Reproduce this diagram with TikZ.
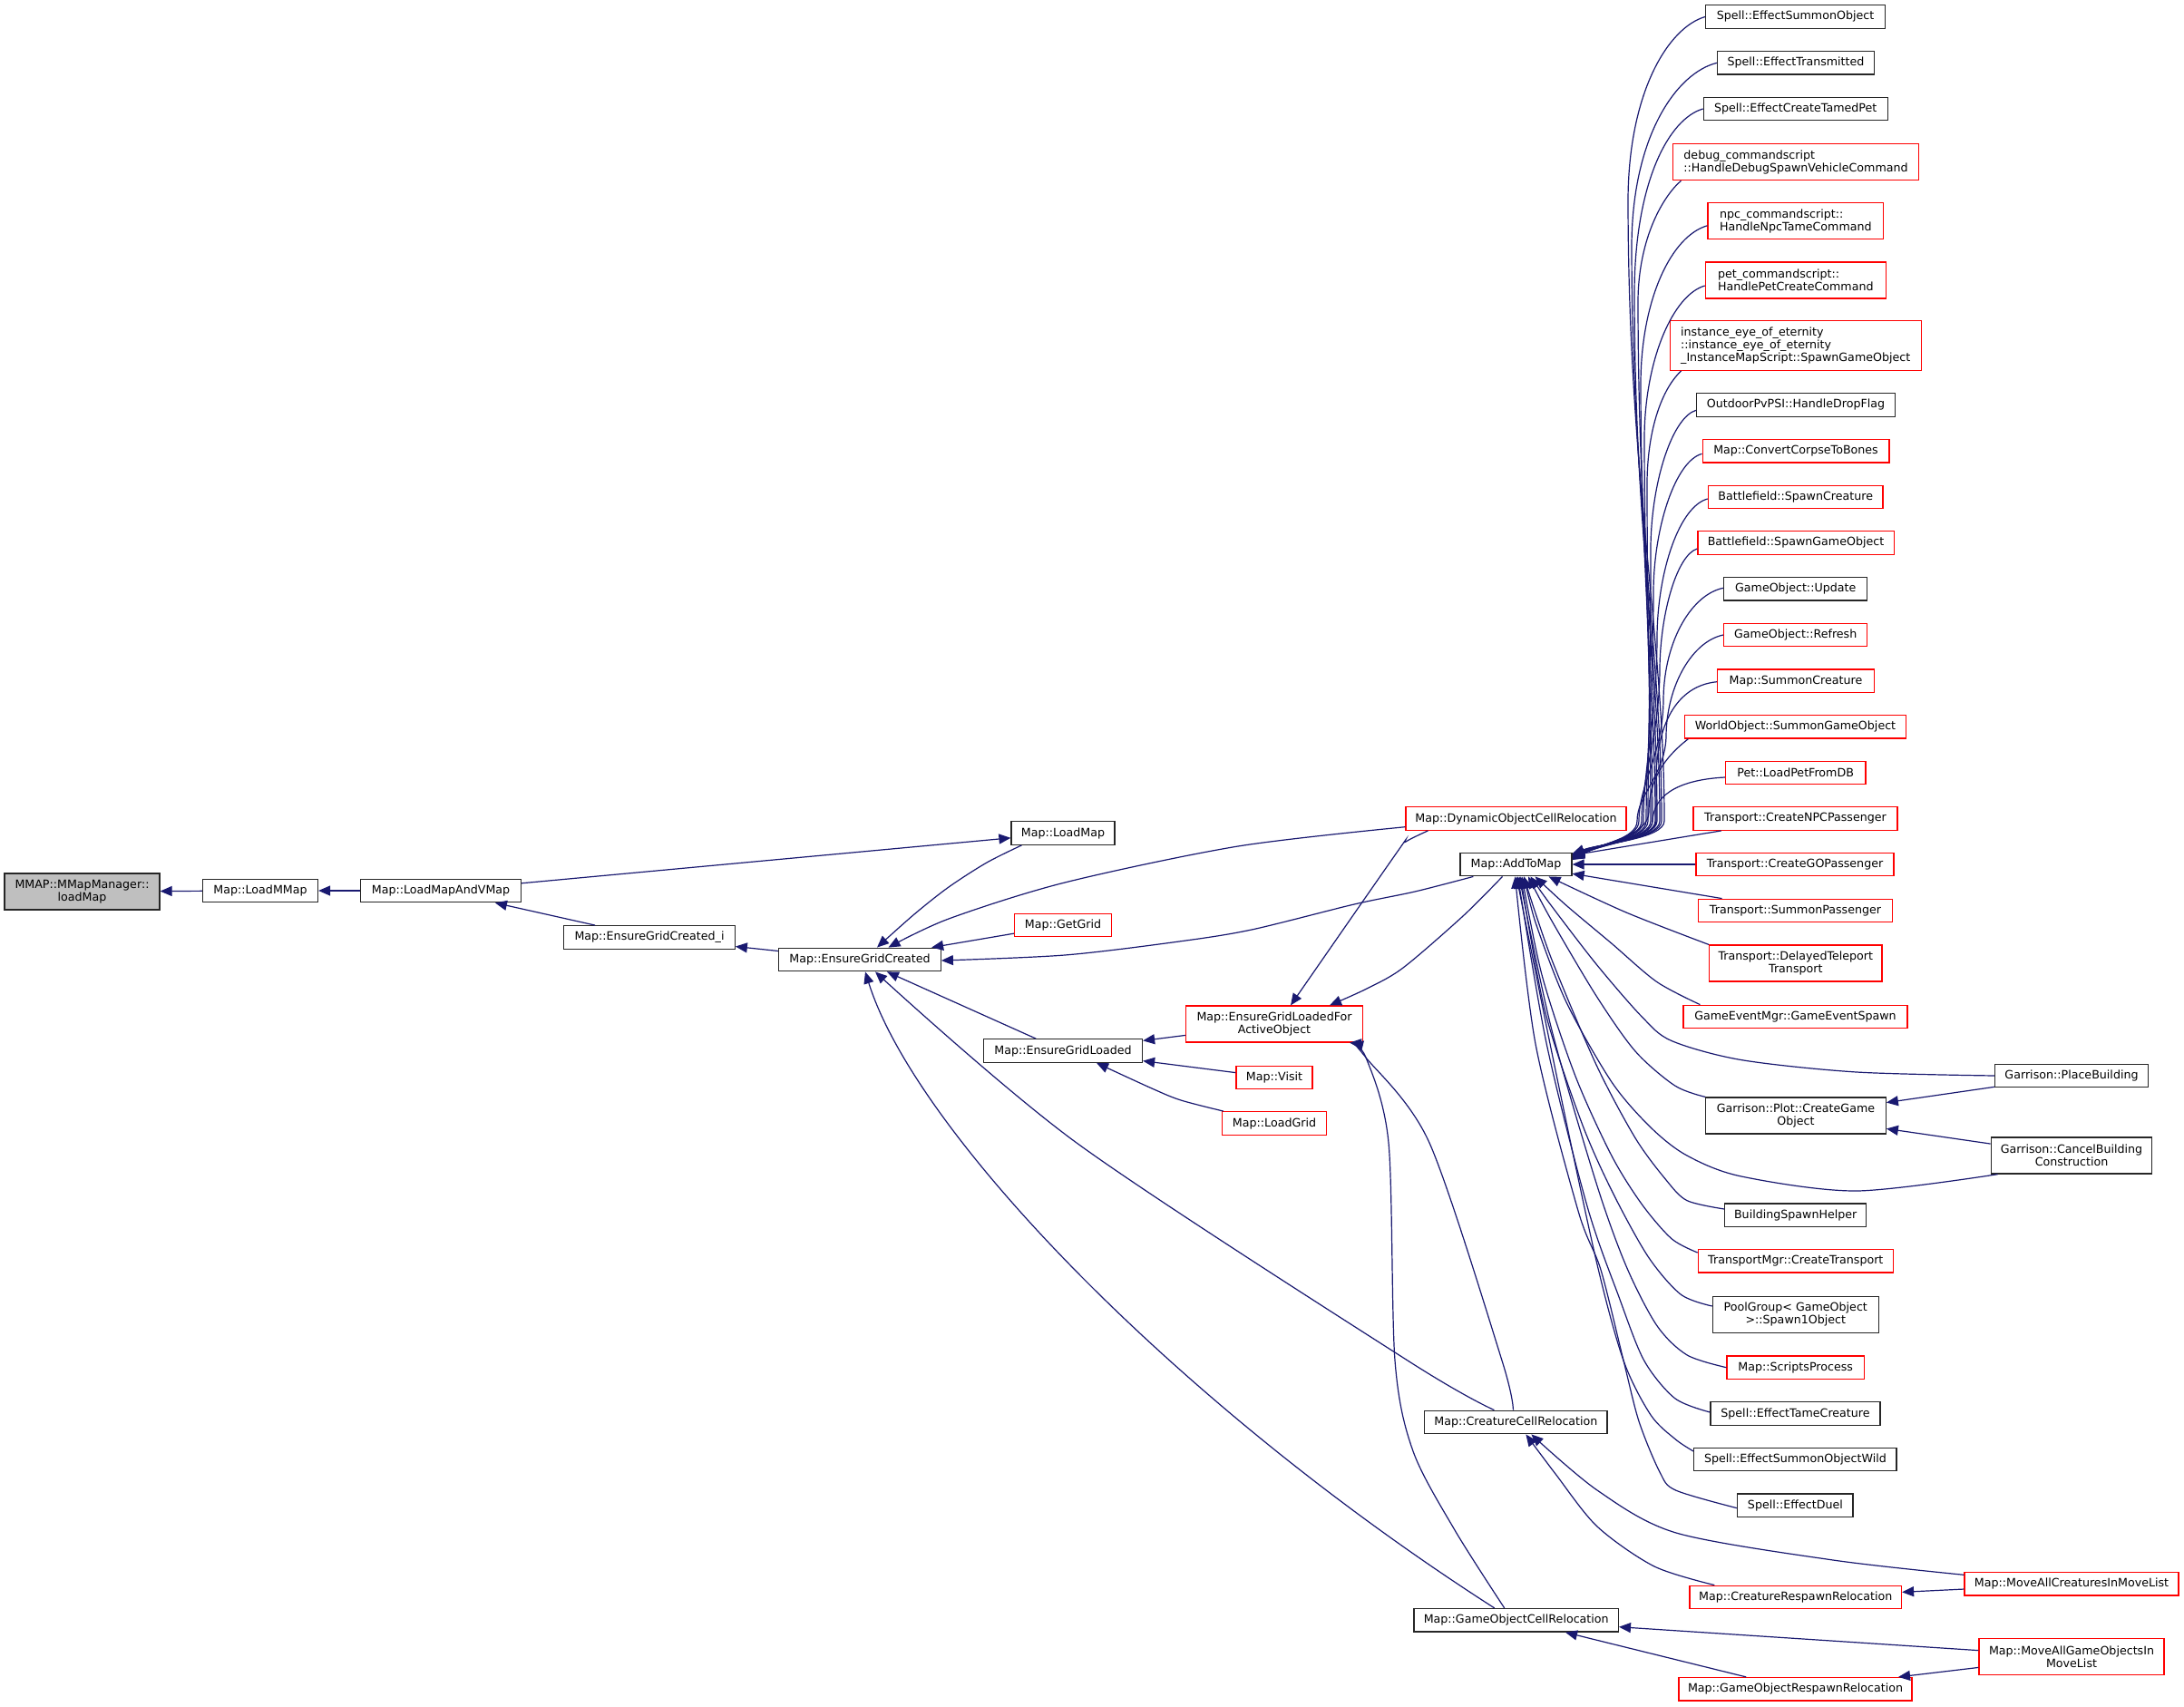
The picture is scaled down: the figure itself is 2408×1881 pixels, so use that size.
\documentclass[tikz,border=0pt]{standalone}
\usepackage{fontspec}
\setmainfont{DejaVu Sans}
\usetikzlibrary{arrows.meta,calc}
\definecolor{edgec}{RGB}{25,25,112}
\definecolor{rootfill}{RGB}{191,191,191}
\newcommand{\nfont}{\fontsize{12.65}{14}\selectfont}
\tikzset{
  nb/.style={draw=black!85, line width=1.25pt, fill=white, inner sep=0pt, minimum height=25.6pt, align=center, font=\nfont},
  rb/.style={nb, draw=red},
  conn/.style={draw=edgec, line width=1.2pt, -{Triangle[length=13pt,width=11pt]}},
}
\begin{document}
\begin{tikzpicture}[x=1pt,y=-1pt]
\fill[white] (0,0) rectangle (2408,1881);
\useasboundingbox (0,0) rectangle (2408,1881);

% ---- left part
\node[nb, fill=rootfill, minimum width=171pt, minimum height=40pt] (mmap) at (90.5,983) {MMAP::MMapManager::\\loadMap};
\node[nb, minimum width=127pt] (lmm) at (287,982) {Map::LoadMMap};
\node[nb, minimum width=176.5pt] (lmav) at (486,982) {Map::LoadMapAndVMap};
\node[nb, minimum width=188.5pt] (egci) at (716,1033.5) {Map::EnsureGridCreated\_i};
\node[nb, minimum width=178.5pt] (egc) at (948,1058) {Map::EnsureGridCreated};
\node[nb, minimum width=114pt] (lmap) at (1172,918.5) {Map::LoadMap};
\node[rb, minimum width=107pt] (ggrid) at (1172,1020) {Map::GetGrid};
\node[nb, minimum width=175pt] (egl) at (1172,1158.5) {Map::EnsureGridLoaded};
\node[rb, minimum width=194.5pt, minimum height=40pt] (eglf) at (1405,1129) {Map::EnsureGridLoadedFor\\ActiveObject};
\node[rb, minimum width=84pt] (visit) at (1405,1188) {Map::Visit};
\node[rb, minimum width=115pt] (lgrid) at (1405,1238.5) {Map::LoadGrid};
\node[rb, minimum width=243pt] (docr) at (1671.5,902.5) {Map::DynamicObjectCellRelocation};
\node[nb, minimum width=123pt] (a2m) at (1671.5,953) {Map::AddToMap};
\node[nb, minimum width=201.3pt] (ccr) at (1671.4,1568) {Map::CreatureCellRelocation};
\node[nb, minimum width=225.3pt] (gocr) at (1671.7,1786.3) {Map::GameObjectCellRelocation};

% ---- column 3
\node[nb, minimum width=197.7pt] (eso) at (1979.5,18.5) {Spell::EffectSummonObject};
\node[nb, minimum width=172.6pt] (etr) at (1980,69.3) {Spell::EffectTransmitted};
\node[nb, minimum width=203pt] (ectp) at (1979.7,120) {Spell::EffectCreateTamedPet};
\node[rb, align=left, minimum width=270.7pt, minimum height=40pt] (dbg) at (1980,178.7) {debug\_commandscript\\::HandleDebugSpawnVehicleCommand};
\node[rb, align=left, minimum width=193.5pt, minimum height=40pt] (npc) at (1979.8,243.8) {npc\_commandscript::\\HandleNpcTameCommand};
\node[rb, align=left, minimum width=199pt, minimum height=40pt] (pet) at (1979.8,309) {pet\_commandscript::\\HandlePetCreateCommand};
\node[rb, align=left, minimum width=277pt, minimum height=54.7pt] (inst) at (1979.7,381) {instance\_eye\_of\_eternity\\::instance\_eye\_of\_eternity\\\_InstanceMapScript::SpawnGameObject};
\node[nb, minimum width=218.7pt] (opvp) at (1980,446.5) {OutdoorPvPSI::HandleDropFlag};
\node[rb, minimum width=205.7pt] (cctb) at (1980,497.3) {Map::ConvertCorpseToBones};
\node[rb, minimum width=192.6pt] (bsc) at (1979.7,548) {Battlefield::SpawnCreature};
\node[rb, minimum width=216.3pt] (bsgo) at (1980,598.5) {Battlefield::SpawnGameObject};
\node[nb, minimum width=158pt] (gou) at (1979.7,649.3) {GameObject::Update};
\node[rb, minimum width=158pt] (gor) at (1979.7,700) {GameObject::Refresh};
\node[rb, minimum width=172.6pt] (msc) at (1980,750.7) {Map::SummonCreature};
\node[rb, minimum width=244.3pt] (wosgo) at (1979.5,801.3) {WorldObject::SummonGameObject};
\node[rb, minimum width=154.6pt] (plpd) at (1979.7,852) {Pet::LoadPetFromDB};
\node[rb, minimum width=225pt] (cnpc) at (1979.5,902.5) {Transport::CreateNPCPassenger};
\node[rb, minimum width=218pt] (cgo) at (1979,953) {Transport::CreateGOPassenger};
\node[rb, minimum width=214pt] (spass) at (1979.5,1004) {Transport::SummonPassenger};
\node[rb, minimum width=190.5pt, minimum height=40pt] (dtt) at (1979.8,1062) {Transport::DelayedTeleport\\Transport};
\node[rb, minimum width=247pt] (ges) at (1979.5,1121) {GameEventMgr::GameEventSpawn};
\node[nb, minimum width=198.5pt, minimum height=40pt] (plot) at (1980,1230) {Garrison::Plot::CreateGame\\Object};
\node[nb, minimum width=156pt] (bsh) at (1979.7,1339.7) {BuildingSpawnHelper};
\node[rb, minimum width=215pt] (tmct) at (1979.8,1390.3) {TransportMgr::CreateTransport};
\node[nb, minimum width=183pt, minimum height=40pt] (pool) at (1979.8,1449.3) {PoolGroup< GameObject\\>::Spawn1Object};
\node[rb, minimum width=151.3pt] (scr) at (1979.7,1507.7) {Map::ScriptsProcess};
\node[nb, minimum width=187pt] (etc) at (1979.5,1558.5) {Spell::EffectTameCreature};
\node[nb, minimum width=223.3pt] (esow) at (1979.4,1609) {Spell::EffectSummonObjectWild};
\node[nb, minimum width=127.2pt] (edu) at (1979.4,1659.7) {Spell::EffectDuel};
\node[rb, minimum width=233.5pt] (crr) at (1979.7,1761) {Map::CreatureRespawnRelocation};
\node[rb, minimum width=257pt] (gorr) at (1979.5,1862.3) {Map::GameObjectRespawnRelocation};

% ---- column 4
\node[nb, minimum width=168.5pt] (pb) at (2284,1186) {Garrison::PlaceBuilding};
\node[nb, minimum width=177.5pt, minimum height=40pt] (cb) at (2284,1274) {Garrison::CancelBuilding\\Construction};
\node[rb, minimum width=236pt] (macm) at (2284,1746.3) {Map::MoveAllCreaturesInMoveList};
\node[rb, minimum width=204pt, minimum height=40pt] (magm) at (2284,1826.3) {Map::MoveAllGameObjectsIn\\MoveList};

% ---- straight connectors
\draw[conn] (lmm) -- (mmap);
\draw[conn] (lmav) -- (lmm);
\draw[conn] (lmav) -- (lmap);
\draw[conn] (egci) -- (lmav);
\draw[conn] (egc) -- (egci);
\draw[conn] (ggrid) -- (egc);
\draw[conn] (egl) -- (egc);
\draw[conn] (eglf) -- (egl);
\draw[conn] (visit) -- (egl);
\draw[conn] (cnpc) -- (a2m);
\draw[conn] (cgo) -- (a2m);
\draw[conn] (spass) -- (a2m);
\draw[conn] (pb) -- (plot);
\draw[conn] (cb) -- (plot);
\draw[conn] (macm) -- (crr);
\draw[conn] (magm) -- (gocr);
\draw[conn] (magm) -- (gorr);
\draw[conn] (gorr) -- (gocr);

% ---- curved connectors, middle
\draw[conn] plot[smooth] coordinates {($(lmap.south west)+(12,0)$) (1088,951) (1046,978) (1008,1008) ($(egc.north)+(19,0)$)};
\draw[conn] plot[smooth] coordinates {($(docr.west)+(0,9.2)$) (1365,933) (1174,973) (1046,1013) ($(egc.north)+(31.5,0)$)};
\draw[conn] plot[smooth] coordinates {($(a2m.south west)+(15,0)$) (1560,983) (1493,997) (1380,1025) (1300,1038) (1174,1053) ($(egc.east)+(0,1)$)};
\draw[conn] plot[smooth] coordinates {($(a2m.south)+(-15,0)$) (1613,1010) (1547,1067) (1507,1090) ($(eglf.north)+(61,0)$)};
\draw[conn] plot[smooth] coordinates {($(docr.south west)+(25,0)$) (1550,928) (1540,940) ($(eglf.north)+(18,0)$)};
\draw[conn] plot[smooth] coordinates {($(ccr.north)+(-3,0)$) (1656,1500) (1576,1260) (1506,1166) ($(eglf.south)+(85,0)$)};
\draw[conn] plot[smooth] coordinates {($(gocr.north)+(-13,0)$) (1604,1687) (1558,1600) (1538,1500) (1531,1260) (1506,1166) ($(eglf.south)+(83,0)$)};
\draw[conn] plot[smooth] coordinates {($(ccr.north)+(-24,0)$) (1552,1500) (1187,1260) ($(egc.south)+(17,0)$)};
\draw[conn] ($(gocr.north)+(-24,0)$) .. controls (1300,1550) and (1010,1250) .. ($(egc.south)+(6,0)$);
\draw[conn] plot[smooth] coordinates {($(lgrid.north west)+(2,0)$) (1302,1213) (1270,1200) ($(egl.south)+(37,0)$)};
\draw[conn] plot[smooth] coordinates {($(macm.west)+(0,-10)$) (2021,1720) (1848,1690) (1761,1643) ($(ccr.south)+(17,0)$)};
\draw[conn] plot[smooth] coordinates {($(crr.north west)+(28,0)$) (1824,1727) (1761,1683) (1715,1625) ($(ccr.south)+(11,0)$)};

% ---- callers above Map::AddToMap
\draw[conn] (eso.west) .. controls (1840,30) and (1796,100) .. (1795,218.5) .. controls (1795,527) and (1835,699) .. (1835,905) .. controls (1835,925) and (1765,930) .. ($(a2m.east)+(0,-11.8)$);
\draw[conn] (etr.west) .. controls (1849,80) and (1800,149) .. (1799,269) .. controls (1799,555) and (1832,714) .. (1832,905) .. controls (1832,925) and (1765,930) .. ($(a2m.east)+(0,-11.4)$);
\draw[conn] (ectp.west) .. controls (1840,131) and (1803,200) .. (1802,320) .. controls (1802,583) and (1830,730) .. (1830,905) .. controls (1830,925) and (1765,930) .. ($(a2m.east)+(0,-11)$);
\draw[conn] ($(dbg.south west)+(9.4,0)$) .. controls (1835,215) and (1807,260) .. (1806,330) .. controls (1806,589) and (1827,733) .. (1827,905) .. controls (1827,925) and (1765,930) .. ($(a2m.east)+(0,-10.5)$);
\draw[conn] ($(npc.west)+(0,5)$) .. controls (1843,260) and (1810,329) .. (1809,420) .. controls (1809,638) and (1825,760) .. (1825,905) .. controls (1825,925) and (1765,930) .. ($(a2m.east)+(0,-10)$);
\draw[conn] ($(pet.west)+(0,6)$) .. controls (1845,325) and (1814,395) .. (1813,480) .. controls (1813,671) and (1822,778) .. (1822,905) .. controls (1822,925) and (1765,930) .. ($(a2m.east)+(0,-9.5)$);
\draw[conn] ($(inst.south west)+(13,0)$) .. controls (1836,425) and (1817,465) .. (1816,530) .. controls (1816,699) and (1820,792) .. (1820,905) .. controls (1820,925) and (1765,930) .. ($(a2m.east)+(0,-9)$);
\draw[conn] ($(opvp.west)+(0,5.8)$) .. controls (1844,460) and (1821,530) .. (1820,602) .. controls (1820,738) and (1817,814) .. (1817,905) .. controls (1817,925) and (1765,930) .. ($(a2m.east)+(0,-8.3)$);
\draw[conn] ($(cctb.west)+(0,3)$) .. controls (1848,508) and (1824,578) .. (1823,650) .. controls (1823,765) and (1815,828) .. (1815,905) .. controls (1815,925) and (1765,930) .. ($(a2m.east)+(0,-7.9)$);
\draw[conn] ($(bsc.west)+(0,2)$) .. controls (1852,558) and (1828,628) .. (1827,700) .. controls (1827,792) and (1812,843) .. (1812,905) .. controls (1812,925) and (1765,930) .. ($(a2m.east)+(0,-7.5)$);
\draw[conn] ($(bsgo.west)+(0,6.5)$) .. controls (1849,612) and (1831,675) .. (1830,735) .. controls (1830,812) and (1810,854) .. (1810,905) .. controls (1810,925) and (1765,930) .. ($(a2m.east)+(0,-7.1)$);
\draw[conn] ($(gou.west)+(0,-1)$) .. controls (1866,655) and (1835,705) .. (1834,770) .. controls (1834,831) and (1807,864) .. (1807,905) .. controls (1807,925) and (1765,930) .. ($(a2m.east)+(0,-6.7)$);
\draw[conn] (gor.west) .. controls (1866,707) and (1838,755) .. (1837,810) .. controls (1837,853) and (1805,876) .. (1805,905) .. controls (1805,925) and (1765,930) .. ($(a2m.east)+(0,-6.2)$);
\draw[conn] ($(msc.west)+(0,1)$) .. controls (1848,756) and (1826,800) .. (1826,860) -- (1826,905) .. controls (1826,925) and (1765,930) .. ($(a2m.east)+(0,-5.8)$);
\draw[conn] ($(wosgo.south west)+(4.6,0)$) .. controls (1835,835) and (1818,860) .. (1818,895) .. controls (1818,922) and (1765,930) .. ($(a2m.east)+(0,-5.4)$);
\draw[conn] ($(plpd.west)+(0,5)$) .. controls (1845,860) and (1823,880) .. (1822,905) .. controls (1822,925) and (1765,930) .. ($(a2m.east)+(0,-5)$);

% ---- callers below Map::AddToMap
\draw[conn] plot[smooth] coordinates {(dtt.north west) (1793,1006) ($(a2m.south)+(36,0)$)};
\draw[conn] plot[smooth] coordinates {($(ges.north west)+(19,0)$) (1826.7,1082.5) (1776.7,1040) (1726.7,998) ($(a2m.south)+(21,0)$)};
\draw[conn] plot[smooth] coordinates {(pb.west) (2047,1182) (1920,1168.6) (1843,1147.5) (1810,1120.7) (1760,1063) (1710,998) ($(a2m.south)+(16,0)$)};
\draw[conn] plot[smooth] coordinates {(plot.north west) (1846.7,1197) (1803,1159) (1760,1098) (1710,1013.6) ($(a2m.south)+(13.5,0)$)};
\draw[conn] plot[smooth] coordinates {($(cb.south west)+(8,0)$) (2047,1313) (1920,1297) (1860,1274) (1820,1243) (1777,1193) (1727,1105) (1693,1017) ($(a2m.south)+(9,0)$)};
\draw[conn] plot[smooth] coordinates {($(bsh.west)+(0,-6.7)$) (1860,1323.6) (1836.7,1300.6) (1803,1254.7) (1760,1174) (1710,1055.7) ($(a2m.south)+(8.5,0)$)};
\draw[conn] plot[smooth] coordinates {($(tmct.west)+(0,-9.3)$) (1843,1365.7) (1810,1327.4) (1776.7,1273.8) (1736.7,1185.8) (1700,1074.8) ($(a2m.south)+(6.5,0)$)};
\draw[conn] plot[smooth] coordinates {($(pool.west)+(0,-9.3)$) (1853,1427) (1816.7,1384.8) (1776.7,1312) (1743,1235.5) (1703,1113) ($(a2m.south)+(5,0)$)};
\draw[conn] plot[smooth] coordinates {(scr.west) (1860,1493.9) (1826.7,1461.3) (1793,1396) (1760,1304.4) (1710,1132) ($(a2m.south)+(3.5,0)$)};
\draw[conn] plot[smooth] coordinates {($(etc.west)+(0,-1.5)$) (1846.7,1541.7) (1812.7,1500) (1785,1430) (1750,1330) (1705,1150) ($(a2m.south)+(2,0)$)};
\draw[conn] plot[smooth] coordinates {($(esow.west)+(0,-9)$) (1847.5,1587) (1820,1560) (1790,1500) (1760,1390) (1715,1180) ($(a2m.south)+(0.5,0)$)};
\draw[conn] plot[smooth] coordinates {($(edu.west)+(0,3)$) (1847.5,1643) (1830,1623) (1807,1567) (1790,1500) (1765,1400) (1740,1335) (1693,1151) ($(a2m.south)+(-1,0)$)};
\end{tikzpicture}
\end{document}
